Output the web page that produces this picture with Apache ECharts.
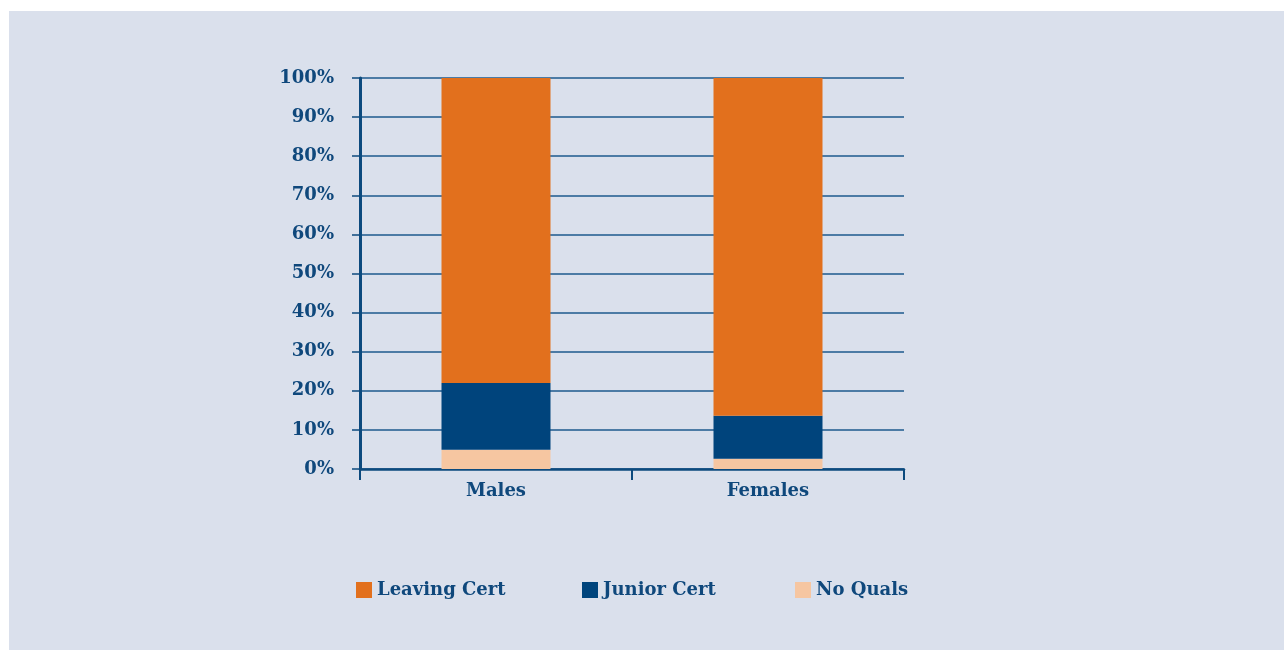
<!DOCTYPE html>
<html>
<head>
<meta charset="utf-8">
<script src="https://cdn.jsdelivr.net/npm/echarts@6/dist/echarts.min.js"></script>
<style>
  html, body {
    margin: 0;
    padding: 0;
    background: #ffffff;
  }
  .panel {
    position: absolute;
    left: 9px;
    top: 11px;
    width: 1275px;
    height: 639px;
    background: #dae0ec;
  }
</style>
</head>
<body>
<div id="chart" class="panel"></div>
<script>
// data
const categories = ["Males", "Females"];
const noQuals = [4.9, 2.6];
const juniorCert = [17.1, 11.0];
const leavingCert = [78.0, 86.4];
const yTicks = [0, 10, 20, 30, 40, 50, 60, 70, 80, 90, 100];

const textColor = "#0f487c";
const lineColor = "#0c4a7e";
const fontFamily = "DejaVu Serif";

const chart = echarts.init(document.getElementById("chart"));

function legendAt(name, left) {
  return {
    data: [name],
    left: left,
    top: 570,
    padding: 0,
    icon: "rect",
    itemWidth: 16,
    itemHeight: 16,
    textStyle: {
      color: textColor,
      fontFamily: fontFamily,
      fontWeight: "bold",
      fontSize: 18,
    },
  };
}

chart.setOption({
  animation: false,
  backgroundColor: "transparent",
  legend: [
    legendAt("Leaving Cert", 347),
    legendAt("Junior Cert", 573),
    legendAt("No Quals", 786),
  ],
  grid: {
    left: 351,
    top: 67,
    right: 380,
    bottom: 181,
  },
  xAxis: {
    type: "category",
    data: categories,
    axisLine: { show: true, lineStyle: { color: lineColor, width: 2.5 } },
    axisTick: { show: true, length: 11, lineStyle: { color: lineColor, width: 2 } },
    axisLabel: {
      margin: 13,
      color: textColor,
      fontFamily: fontFamily,
      fontWeight: "bold",
      fontSize: 18,
    },
  },
  yAxis: {
    type: "value",
    min: yTicks[0],
    max: yTicks[yTicks.length - 1],
    interval: 10,
    axisLine: { show: true, lineStyle: { color: lineColor, width: 3 } },
    axisTick: { show: true, length: 8, lineStyle: { color: lineColor, width: 1.5 } },
    splitLine: { show: true, lineStyle: { color: "#1d5a8e", width: 1.5 } },
    axisLabel: {
      margin: 26,
      padding: [4, 0, 0, 0],
      color: textColor,
      fontFamily: fontFamily,
      fontWeight: "bold",
      fontSize: 18,
      formatter: "{value}%",
    },
  },
  series: [
    {
      name: "No Quals",
      type: "bar",
      stack: "total",
      barWidth: 109,
      data: noQuals,
      itemStyle: { color: "#f6c6a1" },
    },
    {
      name: "Junior Cert",
      type: "bar",
      stack: "total",
      data: juniorCert,
      itemStyle: { color: "#00447c" },
    },
    {
      name: "Leaving Cert",
      type: "bar",
      stack: "total",
      data: leavingCert,
      itemStyle: { color: "#e2701d" },
    },
  ],
});
</script>
</body>
</html>
